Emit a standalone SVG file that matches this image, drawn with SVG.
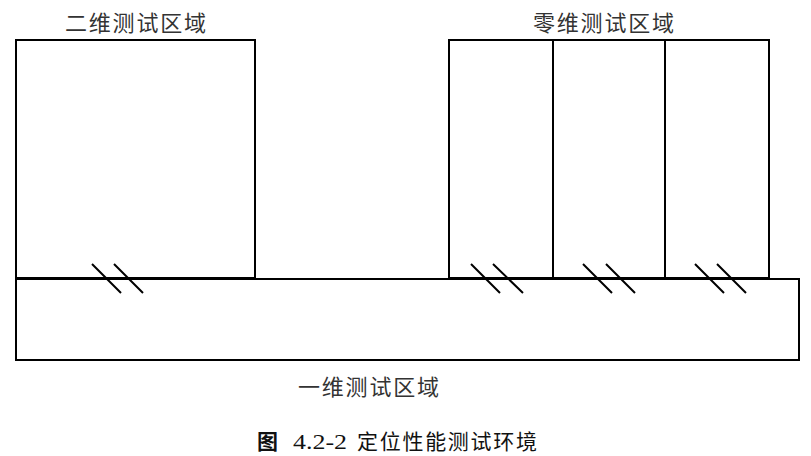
<svg xmlns="http://www.w3.org/2000/svg" width="811" height="456" viewBox="0 0 811 456">
<style>
.box{fill:none;stroke:#000;stroke-width:2}
.tick{stroke:#000;stroke-width:2;fill:none}
.lbl{font-family:"Liberation Serif","Noto Sans CJK SC",serif;font-size:22px;fill:#333;letter-spacing:1.8px}
.cap{font-family:"Liberation Serif","Noto Sans CJK SC",serif;font-size:21px;fill:#111}
</style>
<rect width="811" height="456" fill="#fff"/>
<g id="zone2d">
<rect class="box" x="16" y="40" width="239" height="238"/>
<text class="lbl" x="65" y="31">二维测试区域</text>
</g>
<g id="zone0d">
<rect class="box" x="449" y="40" width="320" height="238"/>
<line class="box" x1="553" y1="40" x2="553" y2="278"/>
<line class="box" x1="665" y1="40" x2="665" y2="278"/>
<text class="lbl" x="533" y="31">零维测试区域</text>
</g>
<g id="zone1d">
<rect class="box" x="16" y="279" width="783" height="81"/>
<text class="lbl" x="298" y="395">一维测试区域</text>
</g>
<g id="connectors">
<path class="tick" d="M92 264L121 293M114 264L143 293"/>
<path class="tick" d="M471 264L500 293M493 264L523 293"/>
<path class="tick" d="M583 264L612 293M606 264L635 293"/>
<path class="tick" d="M695 264L724 293M717 264L746 293"/>
</g>
<g id="caption">
<text class="cap" x="257" y="449" font-weight="bold">图</text>
<text class="cap" x="293" y="449" font-size="23" textLength="54" lengthAdjust="spacingAndGlyphs">4.2-2</text>
<text class="cap" x="357" y="449" textLength="180">定位性能测试环境</text>
</g>
</svg>
